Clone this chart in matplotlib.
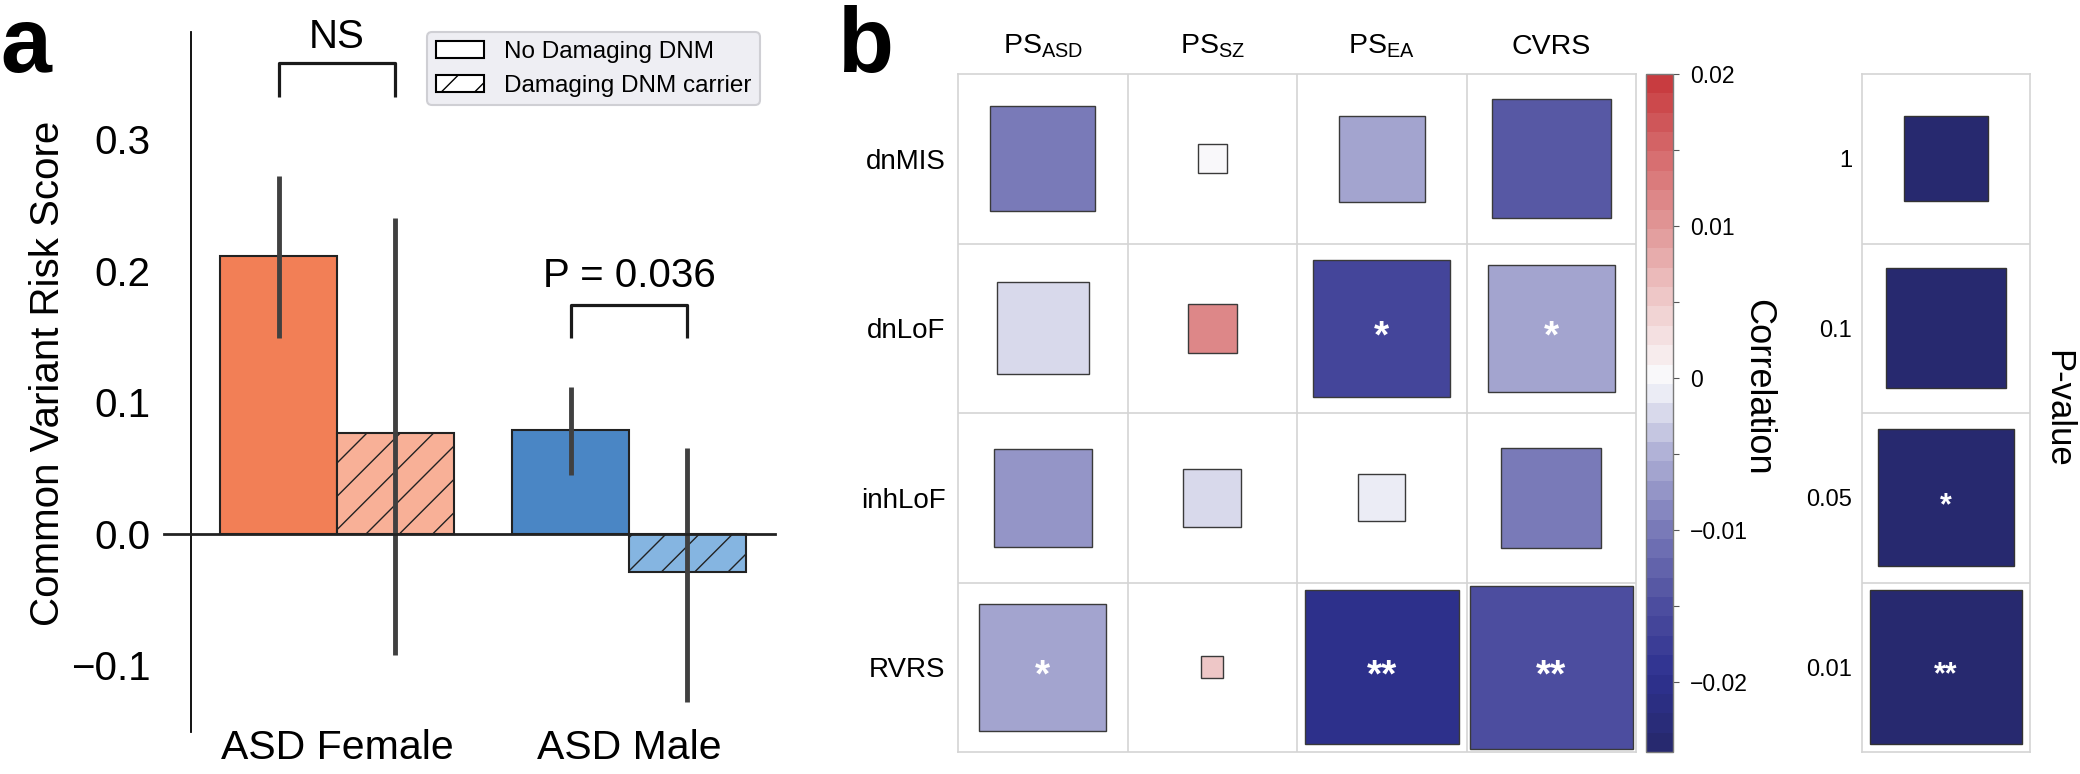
import matplotlib

matplotlib.use("Agg")
import matplotlib.pyplot as plt
import numpy as np
from matplotlib.colors import LinearSegmentedColormap, Normalize
from matplotlib.cm import ScalarMappable
from matplotlib.patches import Patch, Rectangle

plt.rcParams["font.family"] = ["Liberation Sans", "DejaVu Sans"]
plt.rcParams["mathtext.fontset"] = "custom"
plt.rcParams["mathtext.rm"] = "Liberation Sans"
plt.rcParams["hatch.linewidth"] = 1.0

# ---- panel a data ----
groups = ["ASD Female", "ASD Male"]
no_dnm_mean = [0.211, 0.079]
no_dnm_lo = [0.149, 0.045]
no_dnm_hi = [0.272, 0.112]
dnm_mean = [0.077, -0.029]
dnm_lo = [-0.092, -0.128]
dnm_hi = [0.240, 0.065]
sig_labels = ["NS", "P = 0.036"]

# ---- panel b data ----
rows = ["dnMIS", "dnLoF", "inhLoF", "RVRS"]
cols = [r"PS$_\mathregular{ASD}$", r"PS$_\mathregular{SZ}$", r"PS$_\mathregular{EA}$", "CVRS"]
corr = np.array([
    [-0.0104, -0.0001, -0.0066, -0.0134],
    [-0.0019, 0.0117, -0.0168, -0.0056],
    [-0.0080, -0.0027, -0.0010, -0.0105],
    [-0.0066, 0.0058, -0.0200, -0.0150],
])
# relative box size (significance)
box = np.array([
    [0.62, 0.17, 0.51, 0.70],
    [0.54, 0.29, 0.81, 0.75],
    [0.58, 0.34, 0.28, 0.59],
    [0.75, 0.13, 0.91, 0.96],
])
stars = [
    ["", "", "", ""],
    ["", "", "*", "*"],
    ["", "", "", ""],
    ["*", "", "**", "**"],
]
pval_labels = ["1", "0.1", "0.05", "0.01"]
pval_box = [0.50, 0.71, 0.81, 0.91]
pval_stars = ["", "", "*", "**"]
cbar_ticks = [-0.02, -0.01, 0, 0.01, 0.02]
cbar_ticklabels = ["\u22120.02", "\u22120.01", "0", "0.01", "0.02"]

VMIN, VMAX = -0.0246, 0.02
anchors = [(-0.0246, "#27296f"), (-0.022, "#2b2e82"), (-0.02, "#2e3190"),
           (-0.015, "#4f50a0"), (-0.01, "#7a7bb9"), (-0.005, "#b0b1d6"),
           (0.0, "#fafbfd"), (0.005, "#f0cdcd"), (0.01, "#e29a9a"),
           (0.015, "#d66d6f"), (0.02, "#c83c40")]
cmap = LinearSegmentedColormap.from_list(
    "corr", [((v - VMIN) / (VMAX - VMIN), c) for v, c in anchors], N=35)
norm = Normalize(VMIN, VMAX)

W, H = 2080, 774
fig = plt.figure(figsize=(W / 100, H / 100), dpi=100)


def fig_rect(x0, y0, x1, y1):
    return [x0 / W, 1 - y1 / H, (x1 - x0) / W, (y1 - y0) / H]


# ================= panel a =================
ax = fig.add_axes(fig_rect(191, 32, 775, 732))
x = np.arange(len(groups))
ax.bar(x - 0.2, no_dnm_mean, width=0.4, color=["#f27f56", "#4a86c5"],
       edgecolor="#222222", linewidth=1.5, zorder=2)
ax.bar(x + 0.2, dnm_mean, width=0.4, color=["#f8b097", "#85b5e1"],
       edgecolor="#222222", linewidth=1.5, hatch="/", zorder=2)
ax.vlines(x - 0.2, no_dnm_lo, no_dnm_hi, color="#404040", lw=3.5, zorder=3)
ax.vlines(x + 0.2, dnm_lo, dnm_hi, color="#404040", lw=3.5, zorder=3)
ax.axhline(0, xmin=-0.046, xmax=1, color="#222222", lw=2, clip_on=False, zorder=4)

# significance brackets
br_top = [0.358, 0.174]
br_leg = [0.332, 0.149]
txt_y = [0.378, 0.196]
for i in range(len(groups)):
    ax.plot([i - 0.2, i - 0.2, i + 0.2, i + 0.2],
            [br_leg[i], br_top[i], br_top[i], br_leg[i]],
            color="#1a1a1a", lw=2.3, clip_on=False, solid_capstyle="butt")
    ax.text(i, txt_y[i], sig_labels[i], ha="center", va="center", fontsize=29)

ax.set_xlim(-0.5, 1.5)
ax.set_ylim(-0.1506, 0.3817)
ax.set_yticks([-0.1, 0.0, 0.1, 0.2, 0.3])
ax.set_yticklabels(["\u22120.1", "0.0", "0.1", "0.2", "0.3"])
ax.set_xticks(x)
ax.set_xticklabels(groups)
ax.tick_params(axis="y", length=0, pad=29, labelsize=29)
ax.tick_params(axis="x", length=0, pad=-2, labelsize=29.5)
for s in ["top", "right", "bottom"]:
    ax.spines[s].set_visible(False)
ax.spines["left"].set_linewidth(1.3)
ax.spines["left"].set_color("black")
fig.text(48 / W, 1 - 373 / H, "Common Variant Risk Score", rotation=90,
         ha="center", va="center", fontsize=29)

handles = [Patch(facecolor="white", edgecolor="black", linewidth=1.5),
           Patch(facecolor="white", edgecolor="black", linewidth=1.5, hatch="/")]
leg = ax.legend(handles, ["No Damaging DNM", "Damaging DNM carrier"],
                loc="upper right", bbox_to_anchor=(0.974, 1.0), borderaxespad=0,
                fontsize=17.5, handlelength=2.0, handleheight=0.7,
                handletextpad=0.8, labelspacing=0.5, borderpad=0.35,
                fancybox=True, framealpha=1)
leg.get_frame().set_facecolor("#eeeef3")
leg.get_frame().set_edgecolor("#cfcfd4")
leg.get_frame().set_linewidth(1.5)

fig.text(0 / W, 1 - 72 / H, "a", fontsize=66, fontweight="bold",
         ha="left", va="baseline")
fig.text(838 / W, 1 - 72 / H, "b", fontsize=66, fontweight="bold",
         ha="left", va="baseline")

# ================= panel b: heatmap =================
grid_color = "#d4d4d4"
hx = fig.add_axes(fig_rect(958, 74, 1636, 752))
nr, nc = corr.shape
for i in range(nr):
    for j in range(nc):
        s = box[i, j]
        hx.add_patch(Rectangle((j + 0.5 - s / 2, i + 0.5 - s / 2), s, s,
                               facecolor=cmap(norm(corr[i, j])),
                               edgecolor="#3a3a3a", linewidth=1.0, zorder=2))
        if stars[i][j]:
            hx.annotate(stars[i][j], (j + 0.5, i + 0.5), xytext=(0, -7),
                        textcoords="offset points", ha="center", va="center",
                        color="white", fontsize=28, fontweight="bold", zorder=3)
for k in range(1, nc):
    hx.axvline(k, color=grid_color, lw=1.2, zorder=1)
for k in range(1, nr):
    hx.axhline(k, color=grid_color, lw=1.2, zorder=1)
hx.set_xlim(0, nc)
hx.set_ylim(nr, 0)
hx.set_xticks(np.arange(nc) + 0.5)
hx.set_xticklabels(cols)
hx.xaxis.tick_top()
hx.set_yticks(np.arange(nr) + 0.5)
hx.set_yticklabels(rows)
hx.tick_params(axis="x", length=0, pad=10, labelsize=20.5)
hx.tick_params(axis="y", length=0, pad=9, labelsize=20)
for s in hx.spines.values():
    s.set_color(grid_color)
    s.set_linewidth(1.2)

# colorbar
cax = fig.add_axes(fig_rect(1646, 74, 1673, 752))
cb = fig.colorbar(ScalarMappable(norm=norm, cmap=cmap), cax=cax)
cb.set_ticks(cbar_ticks)
cb.set_ticklabels(cbar_ticklabels)
cax.set_yticks([-0.015, -0.005, 0.005, 0.015], minor=True)
cax.tick_params(which="both", length=4, width=0.8, color="#555555",
                labelsize=16.5, pad=8)
cb.outline.set_edgecolor("#7a7a7a")
cb.outline.set_linewidth(1.0)
fig.text(1758 / W, 1 - 387 / H, "Correlation", rotation=270,
         ha="center", va="center", fontsize=26)

# p-value size legend
px = fig.add_axes(fig_rect(1862, 74, 2030, 752))
for i, s in enumerate(pval_box):
    px.add_patch(Rectangle((0.5 - s / 2, i + 0.5 - s / 2), s, s,
                           facecolor="#27296f", edgecolor="#333333",
                           linewidth=1.0, zorder=2))
    if pval_stars[i]:
        px.annotate(pval_stars[i], (0.5, i + 0.5), xytext=(0, -6),
                    textcoords="offset points", ha="center", va="center",
                    color="white", fontsize=22, fontweight="bold", zorder=3)
for k in range(1, len(pval_labels)):
    px.axhline(k, color=grid_color, lw=1.2, zorder=1)
px.set_xlim(0, 1)
px.set_ylim(len(pval_labels), 0)
px.set_xticks([])
px.set_yticks(np.arange(len(pval_labels)) + 0.5)
px.set_yticklabels(pval_labels)
px.tick_params(axis="y", length=0, pad=7, labelsize=17)
for s in px.spines.values():
    s.set_color(grid_color)
    s.set_linewidth(1.2)
fig.text(2058 / W, 1 - 409 / H, "P-value", rotation=270,
         ha="center", va="center", fontsize=25)

fig.savefig("out.png", dpi=100)
plt.close(fig)
